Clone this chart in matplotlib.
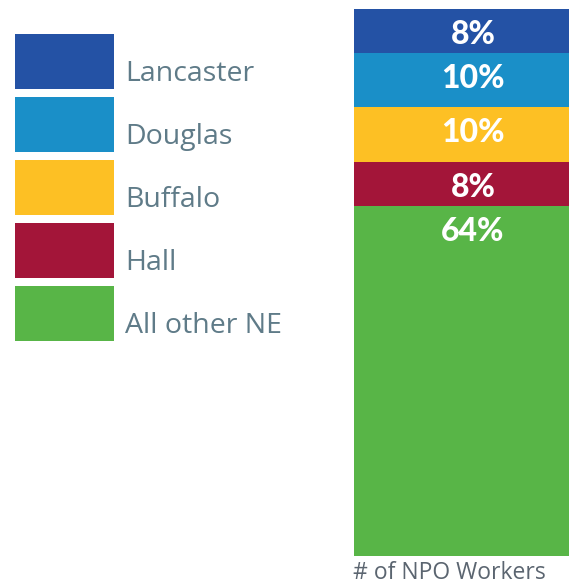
import matplotlib.pyplot as plt
from matplotlib.patches import Rectangle

counties = ["Lancaster", "Douglas", "Buffalo", "Hall", "All other NE"]
shares = [8, 10, 10, 8, 64]
colors = ["#2452a5", "#1a8fc8", "#fdc024", "#a31539", "#58b547"]
bar_label = "# of NPO Workers"

W, H = 569, 584
fig = plt.figure(figsize=(W / 100, H / 100), dpi=100)

# legend area, in pixel-like coordinates
leg = fig.add_axes([0, 0, 1, 1])
leg.set_xlim(0, W)
leg.set_ylim(H, 0)
leg.axis("off")
for i, (name, col) in enumerate(zip(counties, colors)):
    top = 34 + i * 63
    leg.add_patch(Rectangle((15, top), 99, 55, color=col, lw=0))
    leg.text(125, top + 47, name, fontsize=20.5, family="Open Sans",
             color="#5f7b88", va="baseline", ha="left")

# stacked bar (right side is cut by the figure edge)
ax = fig.add_axes([354 / W, (H - 556) / H, (W - 354) / W, (556 - 9) / H])
bottom = 0
for name, val, col in zip(counties, shares, colors):
    ax.bar(0.5, val, width=1, bottom=bottom, color=col, lw=0)
    ax.text(0.5, bottom + 6.4, f"{val}%", ha="center", va="baseline",
            color="white", fontsize=23, fontweight="black", family="Lato")
    bottom += val
ax.set_xlim(0, 0.903)
ax.set_ylim(100, 0)
ax.axis("off")
fig.text(353 / W, 1 - 579 / H, bar_label, fontsize=16.5, family="Open Sans",
         color="#5b6570", ha="left", va="baseline")

fig.savefig("out.png", dpi=100)
